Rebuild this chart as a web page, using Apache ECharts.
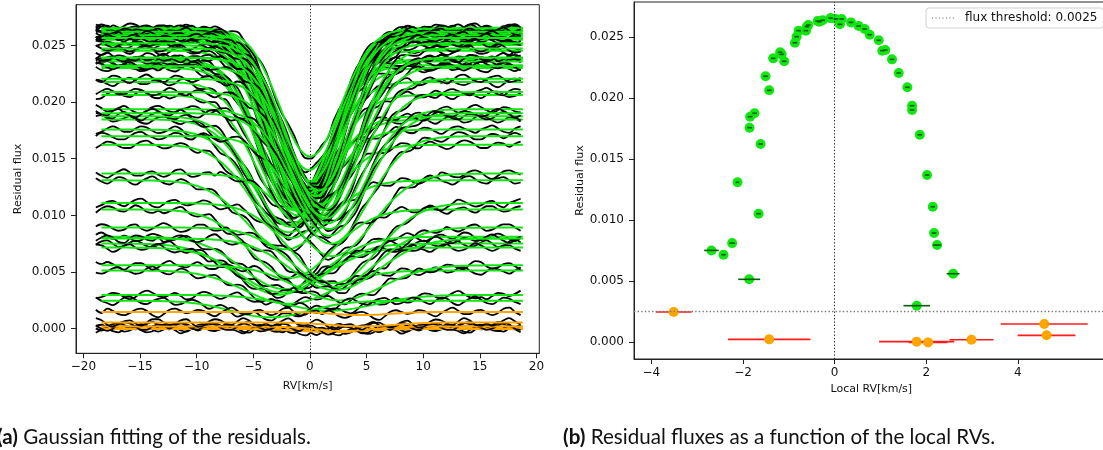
<!DOCTYPE html>
<html><head><meta charset="utf-8">
<script src="https://cdn.jsdelivr.net/npm/echarts@6/dist/echarts.min.js"></script>
<style>html,body{margin:0;padding:0;background:#fff}#c{width:1103px;height:450px}</style>
</head><body><div id="c"></div>
<script>
// ---- data ----
// local RV (fitted Gaussian centre, km/s) and residual flux (continuum level) of every exposure
const localRV = [-2.12,-1.858,-1.845,-1.749,-1.617,-1.508,-1.429,-1.342,-1.189,-1.158,-1.101,-0.868,-0.831,-0.787,-0.627,-0.605,-0.577,-0.372,-0.336,-0.262,-0.09,0.028,0.153,0.116,0.356,0.524,0.656,0.765,0.962,1.04,1.106,1.252,1.399,1.587,1.69,1.69,1.858,2.017,
  -1.661,-2.238,-2.689,-2.426,-1.866,2.142,2.17,2.236,2.586,1.792,
  -3.513,-1.429,1.79,2.04,2.987,4.575,4.626];
const localRVErr = [0.04,0.05,0.05,0.05,0.05,0.05,0.05,0.05,0.05,0.05,0.05,0.05,0.05,0.05,0.05,0.05,0.05,0.05,0.05,0.05,0.05,0.05,0.05,0.05,0.05,0.05,0.05,0.05,0.05,0.05,0.05,0.05,0.05,0.05,0.05,0.05,0.05,0.05,
  0.05,0.06,0.16,0.05,0.24,0.05,0.05,0.09,0.14,0.29,
  0.39,0.9,0.82,0.42,0.48,0.95,0.63];
const residFlux = [0.01309,0.01757,0.01847,0.01875,0.01623,0.02178,0.02063,0.02325,0.02375,0.02358,0.02301,0.02453,0.02503,0.02552,0.02552,0.02585,0.02598,0.02631,0.02626,0.02637,0.02655,0.02648,0.02648,0.02604,0.0262,0.0259,0.02566,0.02519,0.02473,0.02388,0.02393,0.02317,0.02205,0.02088,0.01937,0.01902,0.01699,0.01369,
  0.01052,0.00811,0.00751,0.00716,0.00514,0.01109,0.00893,0.00795,0.0056,0.00298,
  0.00246,0.00022,0.00003,-0.00003,0.00019,0.00148,0.00055];
// Gaussian fit: flux at the bottom of the dip and width (km/s)
const fitBottom = [0.0070,0.0085,0.0092,0.0090,0.0080,0.0105,0.0098,0.0110,0.0112,0.0104,0.0100,0.0108,0.0115,0.0120,0.0101,0.0110,0.0125,0.0105,0.0118,0.0098,0.0140,0.0152,0.0112,0.0130,0.0102,0.0117,0.0108,0.0122,0.0100,0.0110,0.0098,0.0105,0.0097,0.0093,0.0088,0.0082,0.0075,0.0064,
  0.0045,0.0035,0.0030,0.0032,0.0022,0.0040,0.0037,0.0034,0.0025,0.0016,
  0.0010,-0.0001,-0.0002,-0.0003,-0.0002,0.0012,0.0002];
const fitSigma = [3.5,3.3,3.3,3.2,3.4,3.1,3.2,3.0,3.0,3.0,3.1,2.9,2.9,2.9,3.0,2.9,2.8,2.9,2.9,3.0,2.8,2.7,2.9,2.8,2.9,2.9,2.9,2.9,3.0,3.0,3.0,3.1,3.1,3.2,3.2,3.3,3.3,3.5,
  3.6,3.7,3.8,3.7,3.8,3.7,3.7,3.8,3.8,3.9,
  3.4,2.5,2.5,2.8,2.5,2.5,2.8];
// wiggles of the observed residual profiles (units of 1e-4 flux)
const noiseRows = [
  [2,-1,-3,0,3,2,-2,-4,-1,2,4,1,-2,-3,0,3,2,-1,-3,-1,2,3,0,-2,-4,-1,3,4,1,-2,-3,0,2,3,0,-3,-2,1,3],
  [-3,0,2,4,1,-2,-3,1,3,2,-1,-4,-2,1,3,1,-2,-2,1,3,2,-1,-3,-2,1,4,2,-2,-3,0,2,1,-2,-4,-1,2,3,1,-1],
  [1,3,2,-2,-4,-1,2,3,0,-3,-2,2,4,2,-1,-3,-1,2,1,-2,-3,0,3,4,1,-2,-1,1,3,0,-3,-4,-1,2,3,1,-2,-3,0],
  [0,-2,-4,-1,2,4,2,-1,-2,1,3,0,-3,-4,-1,3,4,1,-2,-3,0,2,1,-1,-3,-2,2,4,2,-1,-4,-2,1,3,2,-1,-2,2,4],
  [-2,1,3,1,-2,-3,0,3,2,-1,-3,-3,0,3,4,1,-1,-3,-2,1,3,2,-2,-3,1,3,1,-2,-4,-2,2,4,3,0,-3,-3,0,2,1],
  [3,1,-2,-3,-1,2,3,1,-3,-5,-2,2,3,1,-1,0,2,1,-2,-4,-1,2,4,1,-2,-2,1,2,-1,-3,-1,3,4,0,-3,-2,1,2,-1],
  [-1,-3,-1,2,4,1,-2,-2,1,4,2,-2,-4,-1,1,2,-1,-3,0,3,3,0,-2,-1,2,3,-1,-4,-3,1,3,2,-1,-2,1,4,2,-2,-3],
  [2,4,1,-2,-1,1,-1,-4,-3,1,3,2,0,-2,-1,2,4,2,-2,-4,-2,1,2,0,-2,1,4,3,-1,-3,-2,1,3,1,-2,-4,-1,2,3]
];
const threshold = 0.0025;
const xTicksA = [-20,-15,-10,-5,0,5,10,15,20];
const yTicksA = [0,0.005,0.01,0.015,0.02,0.025];
const xTicksB = [-4,-2,0,2,4];
const yTicksB = [0,0.005,0.01,0.015,0.02,0.025];
const legendLabel = 'flux threshold: 0.0025';

// ---- chart ----
const GREEN = '#12e612', ORANGE = '#ffa500';
const FONT = 'DejaVu Sans';
const fmtX = v => (v < 0 ? '\u2212' + Math.abs(v) : String(v));
const fmtY = v => (v < 0 ? '\u2212' : '') + Math.abs(v).toFixed(3);

const N = localRV.length;
const series = [];
series.push({type:'line', xAxisIndex:0, yAxisIndex:0, data:[[localRV[0], residFlux[0]]], symbol:'none', z:1, silent:true,
  markLine:{silent:true, symbol:'none', precision:6, label:{show:false}, animation:false,
    lineStyle:{type:[1.3,2], color:'#222', width:1}, data:[{xAxis:0}]}});
for (let i = 0; i < N; i++) {
  const mu = localRV[i], A = residFlux[i], D = A - fitBottom[i], s = fitSigma[i];
  const fit = x => A - D * Math.exp(-(x - mu) * (x - mu) / (2 * s * s));
  const row = noiseRows[i % noiseRows.length];
  const sgn = Math.floor(i / noiseRows.length) % 2 ? -1 : 1;
  const obs = [];
  for (let k = 0; k <= 75; k++) {
    const x = -18.9 + k * 0.5;
    obs.push([x, fit(x) + sgn * row[(k + 11 * i) % row.length] * 0.95e-4]);
  }
  const fitPts = [];
  for (let k = 0; k <= 186; k++) { const x = -18.4 + k * 0.2; fitPts.push([x, fit(x)]); }
  series.push({type:'line', xAxisIndex:0, yAxisIndex:0, data:obs, smooth:0.4, symbol:'none', z:2,
    silent:true, lineStyle:{color:'#000', width:1.8}});
  series.push({type:'line', xAxisIndex:0, yAxisIndex:0, data:fitPts, symbol:'none', z:2,
    silent:true, lineStyle:{color: A > 0.002 ? GREEN : ORANGE, width:2}});
}

const isGreen = i => residFlux[i] >= threshold;
const idxG = [], idxO = [];
for (let i = 0; i < N; i++) (isGreen(i) ? idxG : idxO).push(i);
const errBar = color => (params, api) => {
  const x = api.value(0), y = api.value(1), e = api.value(2);
  const p1 = api.coord([x - e, y]), p2 = api.coord([x + e, y]);
  return {type:'line', shape:{x1:p1[0], y1:p1[1], x2:p2[0], y2:p2[1]},
    style:{stroke:color, lineWidth:1.6}};
};
// legend entry of the threshold line (drawn by the markLine below)
series.push({type:'line', name:legendLabel, xAxisIndex:1, yAxisIndex:1, data:[], symbol:'none', z:1,
  itemStyle:{color:'#777'}, lineStyle:{type:[1.4,2.2], color:'#777', width:1.3}});
series.push({type:'line', xAxisIndex:1, yAxisIndex:1, data:[[localRV[0], residFlux[0]]], symbol:'none', z:1, silent:true,
  markLine:{silent:true, symbol:'none', precision:6, label:{show:false}, animation:false,
    data:[{yAxis:threshold, lineStyle:{type:[1.4,2.2], color:'#777', width:1.3}},
          {xAxis:0, lineStyle:{type:[1.3,2], color:'#222', width:1}}]}});
series.push({type:'custom', xAxisIndex:1, yAxisIndex:1, z:3, renderItem:errBar('#ff1a1a'),
  encode:{x:0, y:1}, data: idxO.map(i => [localRV[i], residFlux[i], localRVErr[i]])});
series.push({type:'scatter', xAxisIndex:1, yAxisIndex:1, z:4, symbolSize:10,
  itemStyle:{color:ORANGE, opacity:1}, data: idxO.map(i => [localRV[i], residFlux[i]])});
series.push({type:'scatter', xAxisIndex:1, yAxisIndex:1, z:4, symbolSize:10,
  itemStyle:{color:GREEN, opacity:1}, data: idxG.map(i => [localRV[i], residFlux[i]])});
series.push({type:'custom', xAxisIndex:1, yAxisIndex:1, z:5, renderItem:errBar('#0a5a0a'),
  encode:{x:0, y:1}, data: idxG.map(i => [localRV[i], residFlux[i], localRVErr[i]])});

const axisCommon = {
  axisLine:{show:true, onZero:false, lineStyle:{color:'#222', width:1}},
  axisTick:{show:true, length:5, lineStyle:{color:'#222', width:1}},
  splitLine:{show:false},
  nameTextStyle:{fontFamily:FONT, fontSize:11, color:'#111'}
};
const lab = (vals, fmt, margin) => ({fontFamily:FONT, fontSize:12, color:'#111', margin, formatter:fmt,
  customValues: vals, showMinLabel:true, showMaxLabel:true});
const capStyle = {fontFamily:'Lato', fontSize:20.6, fontWeight:'normal', color:'#111',
  rich:{b:{fontFamily:'Lato', fontSize:20.6, fontWeight:'bold', color:'#111'}}};

const option = {
  animation:false,
  backgroundColor:'#fff',
  title:[
    {text:'{b|(a)} Gaussian fitting of the residuals.', left:-8, top:422, textStyle:capStyle},
    {text:'{b|(b)} Residual fluxes as a function of the local RVs.', left:558, top:422, textStyle:capStyle}
  ],
  legend:{data:[{name:legendLabel, icon:'path://M0,0h1v1h-1zM3,0h1v1h-1zM6,0h1v1h-1zM9,0h1v1h-1zM12,0h1v1h-1zM15,0h1v1h-1zM18,0h1v1h-1z'}],
    left:926, top:8, orient:'vertical', padding:[4,6,4,6],
    itemWidth:22, itemHeight:1.5, itemStyle:{color:'#777'}, borderColor:'#d0d0d0', borderWidth:1, borderRadius:3,
    backgroundColor:'rgba(255,255,255,0.85)',
    textStyle:{fontFamily:FONT, fontSize:12, color:'#111', padding:[0,0,0,6]}},
  grid:[
    {left:76, top:4.7, width:463.3, height:348.6, show:true, borderColor:'#222', borderWidth:1, outerBoundsMode:'none', containLabel:false},
    {left:634, top:2, width:474.6, height:357, show:true, borderColor:'#222', borderWidth:1, outerBoundsMode:'none', containLabel:false}
  ],
  xAxis:[
    Object.assign({type:'value', gridIndex:0, min:-20.65, max:20.25, name:'RV[km/s]', nameLocation:'middle', nameGap:27,
      axisLabel:lab(xTicksA, fmtX, 8)}, axisCommon,
      {axisTick:Object.assign({}, axisCommon.axisTick, {customValues:xTicksA})}),
    Object.assign({type:'value', gridIndex:1, min:-4.38, max:5.98, name:'Local RV[km/s]', nameLocation:'middle', nameGap:24,
      axisLabel:lab(xTicksB, fmtX, 8)}, axisCommon,
      {axisTick:Object.assign({}, axisCommon.axisTick, {customValues:xTicksB})})
  ],
  yAxis:[
    Object.assign({type:'value', gridIndex:0, min:-0.00217, max:0.02859, name:'Residual flux', nameLocation:'middle', nameGap:52,
      axisLabel:lab(yTicksA, fmtY, 10)}, axisCommon,
      {axisTick:Object.assign({}, axisCommon.axisTick, {customValues:yTicksA})}),
    Object.assign({type:'value', gridIndex:1, min:-0.00139, max:0.02787, name:'Residual flux', nameLocation:'middle', nameGap:45,
      axisLabel:lab(yTicksB, fmtY, 10)}, axisCommon,
      {axisTick:Object.assign({}, axisCommon.axisTick, {customValues:yTicksB})})
  ],
  series
};
const chart = echarts.init(document.getElementById('c'), null, {renderer:'canvas'});
chart.setOption(option);
</script></body></html>
